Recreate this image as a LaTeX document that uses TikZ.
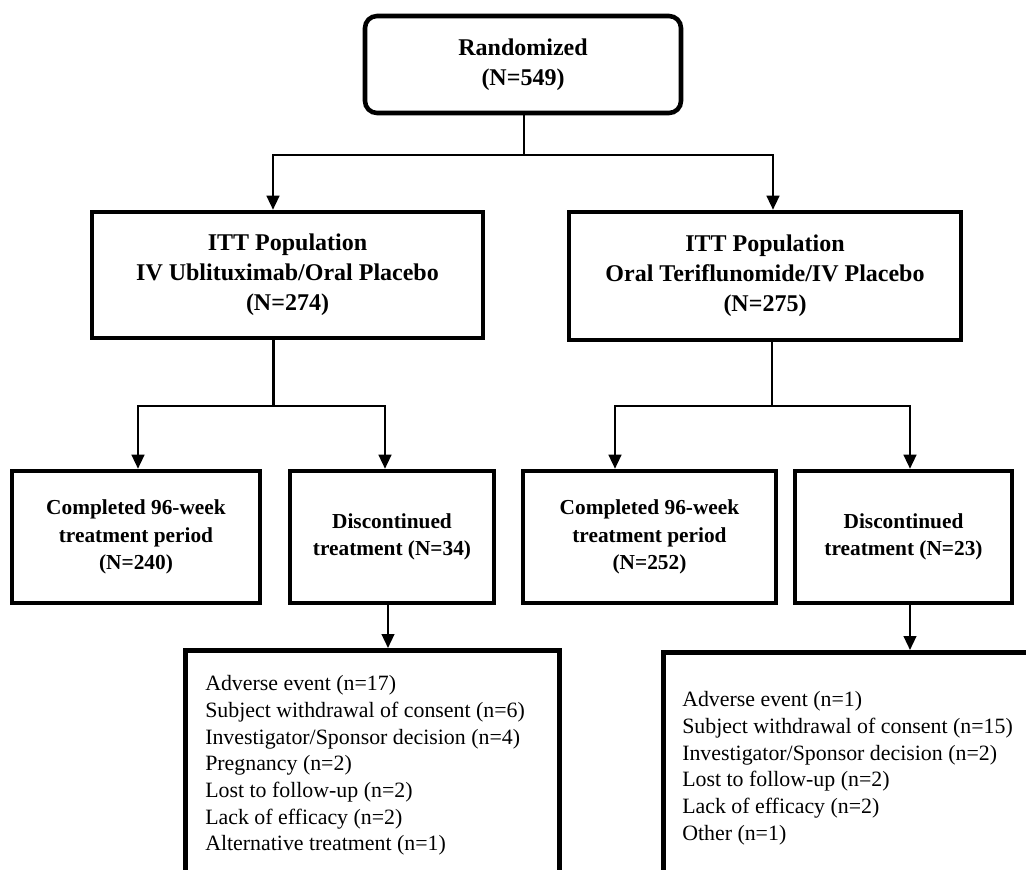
\documentclass[tikz,border=0pt]{standalone}
\usepackage{fontspec}
\setmainfont{Liberation Serif}
\usetikzlibrary{arrows.meta}
\begin{document}
\begin{tikzpicture}[x=0.75pt,y=-0.75pt,
  box/.style={draw, line width=3.4pt, align=center, inner sep=0pt,
    font=\bfseries\fontsize{18}{22.5}\selectfont},
  smallbox/.style={box, minimum height=99pt, font=\bfseries\fontsize{16}{20.5}\selectfont},
  reason/.style={draw, line width=3.4pt, anchor=north west, inner sep=0pt,
    font=\fontsize{16.4}{20}\selectfont},
  conn/.style={line width=1.7pt},
  arr/.style={conn, -{Triangle[length=10.5pt,width=9.5pt]}},
]
\useasboundingbox (0,0) rectangle (1026,869);
\fill[white] (0,0) rectangle (1026,869);
\clip (0,0) rectangle (1026,869);

% boxes
\node[box, rounded corners=9pt, minimum width=237pt, minimum height=72.75pt] (rnd) at (523,64.5)
  {Randomized\\(N=549)};
\node[box, minimum width=293.25pt, minimum height=94.5pt] (itt1) at (287.5,275)
  {ITT Population\\IV Ublituximab/Oral Placebo\\(N=274)};
\node[box, minimum width=294pt, minimum height=96pt] (itt2) at (765,276)
  {ITT Population\\Oral Teriflunomide/IV Placebo\\(N=275)};
\node[smallbox, minimum width=186pt] (c1) at (136,537)
  {Completed 96-week\\treatment period\\(N=240)};
\node[smallbox, minimum width=153pt] (d1) at (392,537)
  {Discontinued\\treatment (N=34)};
\node[smallbox, minimum width=189.75pt] (c2) at (649.5,537)
  {Completed 96-week\\treatment period\\(N=252)};
\node[smallbox, minimum width=162.75pt] (d2) at (903.5,537)
  {Discontinued\\treatment (N=23)};

\node[reason, inner xsep=15pt, inner ysep=19pt] (r1) at (183,648)
  {\parbox[c][180pt][t]{250.5pt}{\raggedright
   Adverse event (n=17)\\
   Subject withdrawal of consent (n=6)\\
   Investigator/Sponsor decision (n=4)\\
   Pregnancy (n=2)\\
   Lost to follow-up (n=2)\\
   Lack of efficacy (n=2)\\
   Alternative treatment (n=1)}};
\node[reason, inner xsep=14.25pt, inner ysep=29.5pt] (r2) at (661,650)
  {\parbox[c][180pt][t]{309pt}{\raggedright
   Adverse event (n=1)\\
   Subject withdrawal of consent (n=15)\\
   Investigator/Sponsor decision (n=2)\\
   Lost to follow-up (n=2)\\
   Lack of efficacy (n=2)\\
   Other (n=1)}};

% connectors
\coordinate (j) at (524,155);
\coordinate (jL) at (273,155);
\coordinate (jR) at (773,155);
\draw[conn] (rnd.south -| j) -- (j);
\draw[arr] (j) -| (jL |- itt1.north);
\draw[arr] (j) -| (jR |- itt2.north);

\coordinate (fL) at (273.5,406);
\coordinate (fR) at (772,406);
\coordinate (a1) at (138,406);
\coordinate (a2) at (385,406);
\coordinate (a3) at (615,406);
\coordinate (a4) at (910,406);
\draw[conn] (fL |- itt1.south) -- (fL);
\draw[conn] (fR |- itt2.south) -- (fR);
\draw[arr] (fL) -| (a1 |- c1.north);
\draw[arr] (fL) -| (a2 |- d1.north);
\draw[arr] (fR) -| (a3 |- c2.north);
\draw[arr] (fR) -| (a4 |- d2.north);

\coordinate (b1) at (388,625);
\coordinate (b2) at (910,625);
\draw[arr] (b1 |- d1.south) -- (b1 |- r1.north);
\draw[arr] (b2 |- d2.south) -- (b2 |- r2.north);
\end{tikzpicture}
\end{document}
